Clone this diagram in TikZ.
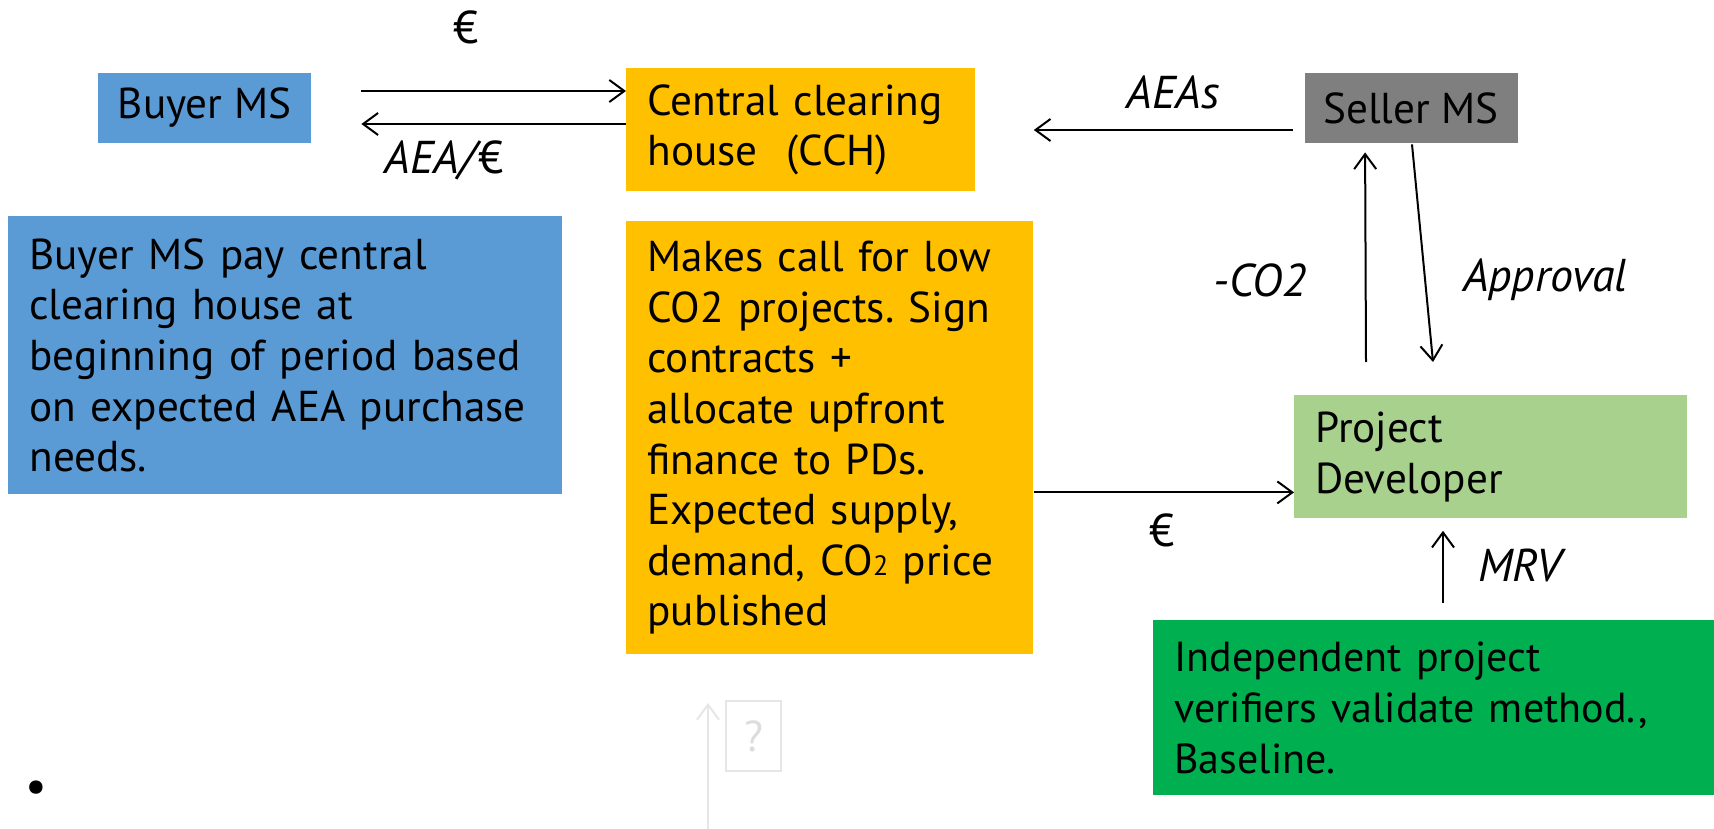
\documentclass[tikz,border=0pt]{standalone}
\usepackage{fontspec}
\setmainfont{PT Sans}
\usetikzlibrary{arrows.meta,calc}
\definecolor{cblue}{HTML}{5B9BD5}
\definecolor{corange}{HTML}{FFC000}
\definecolor{cgray}{HTML}{7F7F7F}
\definecolor{clgreen}{HTML}{A9D18E}
\definecolor{cgreen}{HTML}{00B050}
\definecolor{cfaint}{HTML}{E6E6E6}
\frenchspacing
\begin{document}
\begin{tikzpicture}[x=0.5pt,y=-0.5pt,
  every node/.style={inner sep=0pt,font=\fontsize{21.6}{25.3}\selectfont},
  cbox/.style={minimum width=106.5pt,minimum height=35pt},
  tbox/.style={anchor=north west,align=left,inner xsep=10.5pt,inner ysep=0pt},
  arr/.style={-{Straight Barb[length=7.5pt,width=11pt]},line width=1pt},
  lbl/.style={font=\fontsize{23}{26}\selectfont\itshape},
  eur/.style={font=\fontsize{23}{26}\selectfont}
]
\useasboundingbox (0,0) rectangle (1714,829);

% boxes
\node[cbox,fill=cblue] (buyer) at (204.5,108) {Buyer MS};
\node[cbox,fill=cgray] (seller) at (1411,108) {Seller MS};
\node[tbox,fill=corange,text width=153.5pt,minimum height=61.5pt] (cch) at (626,68)
  {Central clearing\\house\ \ (CCH)};
\node[tbox,fill=cblue,text width=256pt,minimum height=139pt] (btext) at (8,216)
  {Buyer MS pay central\\clearing house at\\beginning of period based\\on expected AEA purchase\\needs.};
\node[tbox,fill=corange,text width=182.5pt,minimum height=216.5pt] (orange) at (626,221)
  {Makes call for low\\CO2 projects. Sign\\contracts +\\allocate upfront\\finance to PDs.\\Expected supply,\\demand, CO{\fontsize{14}{14}\selectfont 2} price\\published};
\node[tbox,fill=clgreen,text width=175.5pt,minimum height=61.5pt] (pd) at (1294,395)
  {Project\\Developer};
\node[tbox,fill=cgreen,text width=290pt,minimum height=87.5pt] (ver) at (1153,620)
  {\fontsize{21}{25.3}\selectfont Independent project\\verifiers validate method.,\\Baseline.};

% connectors
\draw[arr] ($(buyer.east)+(50,-17)$) -- ($(buyer.east -| cch.west)+(0,-17)$);
\draw[arr] ($(buyer.east -| cch.west)+(0,16)$) -- ($(buyer.east)+(50,16)$);
\draw[arr] ($(seller.west)+(-11,22)$) -- ($(cch.east |- seller.west)+(58,22)$);
\draw[arr] ($(pd.north west)+(72,-33)$) -- ($(seller.south west)+(61,9)$);
\draw[arr] ($(seller.south)+(1,1)$) -- ($(pd.north west)+(139,-33)$);
\draw[arr] ($(orange.east |- pd.west)+(0,35.5)$) -- ($(pd.west)+(0,35.5)$);
\draw[arr] ($(ver.north west)+(290,-17)$) -- ($(pd.south west)+(149,12)$);

% labels
\node[eur] (l1) at (466,27) {€};
\node[lbl] (l2) at (444,160) {AEA/\kern1.5pt\upshape€};
\node[lbl] (l3) at (1173,92) {AEAs};
\node[lbl] (l4) at (1260,280) {-CO2};
\node[lbl] (l5) at (1545,280) {Approval};
\node[eur] (l6) at (1162,530) {€};
\node[lbl] (l7) at (1520,565) {MRV};

% faint placeholder
\node[draw=cfaint,line width=1pt,minimum width=27.5pt,minimum height=35pt,text=cfaint!90!gray] (q) at (753.5,736) {?};
\coordinate (qb) at (708,829);
\draw[-{Straight Barb[length=7.5pt,width=11pt]},line width=1pt,draw=cfaint] (qb) -- (708,703);

% bullet
\node[font=\fontsize{24}{24}\selectfont] (bul) at (36,792) {•};
\end{tikzpicture}
\end{document}
